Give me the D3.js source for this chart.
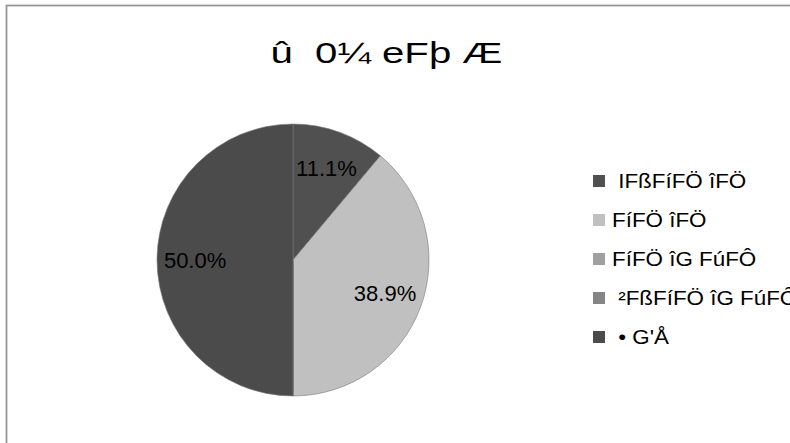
<!DOCTYPE html>
<html>
<head>
<meta charset="utf-8">
<script src="https://cdn.jsdelivr.net/npm/d3@7"></script>
<style>
html,body{margin:0;padding:0;background:#fff;overflow:hidden;}
svg{display:block;font-family:"Liberation Sans",Arial,sans-serif;}
</style>
</head>
<body>
<svg id="chart" width="790" height="443"></svg>
<script>
const title = "û  0¼ eFþ Æ";
const categories = [" IFßFíFÖ îFÖ", "FíFÖ îFÖ", "FíFÖ îG FúFÔ", " ²FßFíFÖ îG FúFÔ", " • G'Å"];
const values = [2, 7, 0, 0, 9];
const colors = ["#505050", "#c0c0c0", "#a0a0a0", "#858585", "#4b4b4b"];

const svg = d3.select("#chart");
const W = 790, H = 443;

svg.append("rect").attr("x", 0).attr("y", 0).attr("width", W).attr("height", H).attr("fill", "#fff");
svg.append("rect").attr("x", 6.5).attr("y", 5.5).attr("width", 820).attr("height", 460)
  .attr("fill", "none").attr("stroke", "#949494").attr("stroke-width", 1.75);

svg.append("text").attr("x", 386.5).attr("y", 63).attr("text-anchor", "middle")
  .attr("font-size", 30).attr("fill", "#000").style("white-space", "pre")
  .attr("textLength", 232).attr("lengthAdjust", "spacingAndGlyphs")
  .text(title);

const cx = 293, cy = 260, r = 136;
const total = d3.sum(values);
const pie = d3.pie().sort(null).value(d => d);
const arcs = pie(values);
const arc = d3.arc().innerRadius(0).outerRadius(r);
const labelArc = d3.arc().innerRadius(r * 0.72).outerRadius(r * 0.72);

const g = svg.append("g").attr("transform", `translate(${cx},${cy})`);
g.selectAll("path").data(arcs).enter().append("path")
  .attr("d", arc)
  .attr("fill", (d, i) => colors[i])
  .attr("stroke", "#7a7a7a").attr("stroke-width", 0.6);

const fmt = d3.format(".1%");
g.selectAll("text.lbl").data(arcs.filter(d => d.value > 0)).enter().append("text")
  .attr("class", "lbl")
  .attr("x", d => labelArc.centroid(d)[0])
  .attr("y", d => labelArc.centroid(d)[1])
  .attr("text-anchor", "middle").attr("dominant-baseline", "central")
  .attr("font-size", 22).attr("fill", "#000")
  .text(d => fmt(d.value / total));

const legend = svg.append("g");
const ly0 = 181, lstep = 39;
categories.forEach((c, i) => {
  const y = ly0 + i * lstep;
  legend.append("rect").attr("x", 593).attr("y", y - 6).attr("width", 12).attr("height", 12)
    .attr("fill", colors[i]);
  legend.append("g").attr("transform", `translate(612,${y}) scale(1.12,1)`)
    .append("text").attr("x", 0).attr("y", 0).attr("dominant-baseline", "central")
    .attr("font-size", 20).attr("fill", "#000")
    .style("white-space", "pre").text(c);
});
</script>
</body>
</html>
